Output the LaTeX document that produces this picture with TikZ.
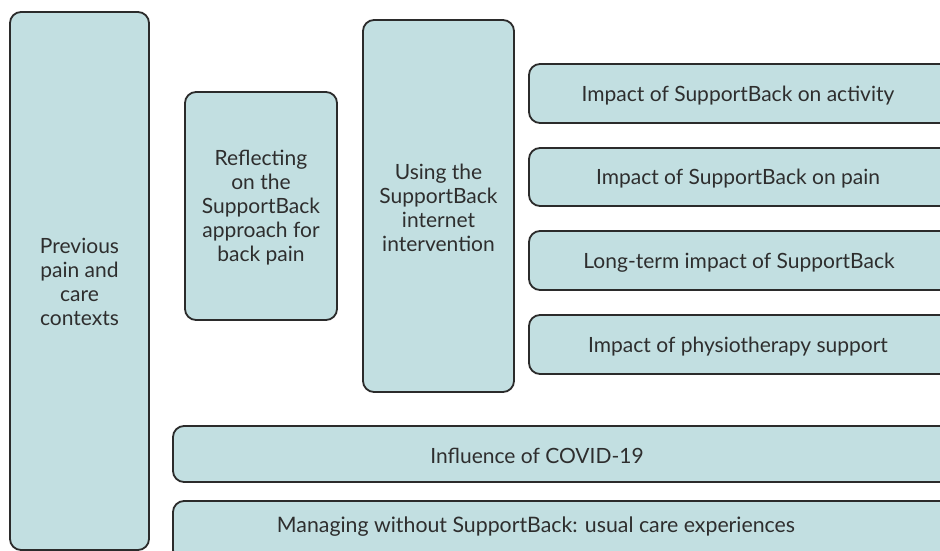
\documentclass[tikz,border=0pt]{standalone}
\usepackage{fontspec}
\setmainfont{Lato}
\definecolor{boxfill}{HTML}{C2DFE1}
\definecolor{boxline}{HTML}{2B2B2B}
\definecolor{txt}{HTML}{2E2E2E}
\begin{document}
\begin{tikzpicture}[x=1pt,y=-1pt,
  theme/.style={draw=boxline,line width=1.8pt,fill=boxfill,rounded corners=11pt,
    anchor=north west,inner sep=0pt,outer sep=0pt},
  lbl/.style={text=txt,font=\fontsize{21}{24}\selectfont,align=center,inner sep=0pt}]
\useasboundingbox (0,0) rectangle (940,551);
% boxes (geometry in pixel coordinates)
\node[theme,minimum width=139pt,minimum height=538pt] (prev) at (10,12) {};
\node[theme,minimum width=152pt,minimum height=228pt] (refl) at (185,92) {};
\node[theme,minimum width=151pt,minimum height=372pt] (using) at (363,20) {};
\node[theme,minimum width=430pt,minimum height=59pt] (act) at (529,64) {};
\node[theme,minimum width=430pt,minimum height=58pt] (pain) at (529,148) {};
\node[theme,minimum width=430pt,minimum height=59pt] (long) at (529,231) {};
\node[theme,minimum width=430pt,minimum height=59pt] (physio) at (529,315) {};
\node[theme,minimum width=790pt,minimum height=56pt] (covid) at (173,426) {};
\node[theme,minimum width=790pt,minimum height=60pt] (usual) at (173,501) {};
% labels
\node[lbl] (tprev) at (79.5,282) {Previous\\pain and\\care\\contexts};
\node[lbl] (trefl) at (261,208) {Reflecting\\on the\\SupportBack\\approach for\\back pain};
\node[lbl] (tusing) at (438.5,208) {Using the\\SupportBack\\internet\\intervention};
\node[lbl] (tact) at (738,96) {Impact of SupportBack on activity};
\node[lbl] (tpain) at (738,179) {Impact of SupportBack on pain};
\node[lbl] (tlong) at (739,263) {Long-term impact of SupportBack};
\node[lbl] (tphysio) at (738,347) {Impact of physiotherapy support};
\node[lbl] (tcovid) at (537,456) {Influence of COVID-19};
\node[lbl,font=\fontsize{21.3}{24}\selectfont] (tusual) at (536,527) {Managing without SupportBack: usual care experiences};
\end{tikzpicture}
\end{document}
